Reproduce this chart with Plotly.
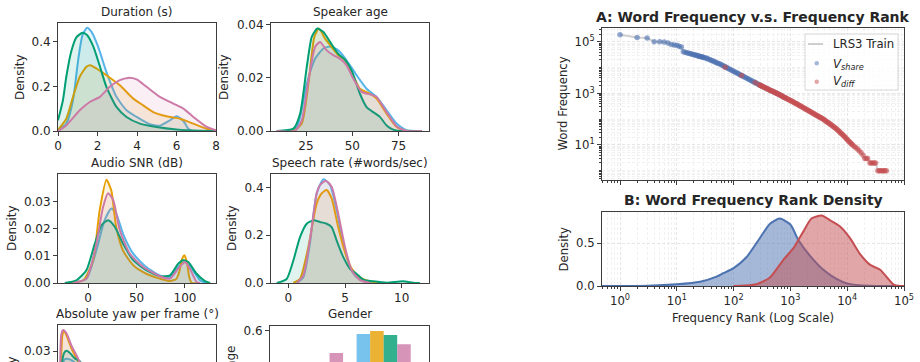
import plotly.graph_objects as go

W, H = 920, 362
FONT = "DejaVu Sans"
INK = "#262626"
SPINE = "#3c3c3c"
GRID = "#e6e6e6"
GRID_MINOR = "#f1f1f1"

C_BLUE, C_ORANGE, C_GREEN, C_PINK = "#56B4E9", "#E69F00", "#009E73", "#CC79A7"
C_SHARE, C_DIFF = "#4C72B0", "#C44E52"

# ---------------- data: left grid (KDE curves) ----------------
dur_blue_x = [0, 0.42, 0.76, 1.02, 1.24, 1.47, 1.69, 2.03, 2.45, 2.96, 3.47, 3.98, 4.65, 5.16, 5.67, 6.0, 6.35, 6.6, 6.85, 8.0]
dur_blue_y = [0, 0.033, 0.138, 0.318, 0.43, 0.463, 0.445, 0.378, 0.265, 0.153, 0.093, 0.063, 0.03, 0.024, 0.048, 0.066, 0.045, 0.01, 0, 0]
dur_orange_x = [0, 0.42, 0.76, 1.1, 1.44, 1.64, 1.95, 2.45, 3.13, 3.81, 4.31, 4.82, 5.5, 6.18, 6.85, 7.53, 8.0]
dur_orange_y = [0.005, 0.055, 0.153, 0.243, 0.288, 0.295, 0.28, 0.25, 0.205, 0.145, 0.115, 0.085, 0.066, 0.055, 0.033, 0.01, 0.003]
dur_green_x = [0, 0.25, 0.42, 0.68, 0.93, 1.24, 1.47, 1.78, 2.12, 2.45, 2.96, 3.47, 4.15, 4.99, 6.0, 7.2, 8.0]
dur_green_y = [0.048, 0.138, 0.243, 0.36, 0.42, 0.44, 0.43, 0.38, 0.29, 0.198, 0.108, 0.063, 0.033, 0.018, 0.007, 0.001, 0]
dur_pink_x = [0, 0.42, 1.1, 1.61, 2.12, 2.62, 3.13, 3.55, 3.98, 4.48, 5.16, 5.84, 6.35, 6.85, 7.53, 8.0]
dur_pink_y = [0, 0.025, 0.093, 0.13, 0.153, 0.198, 0.228, 0.238, 0.231, 0.198, 0.153, 0.123, 0.1, 0.063, 0.018, 0.003]

age_blue_x = [9.2, 14.6, 20, 25.4, 29.9, 34.4, 38, 42.4, 46.9, 52.3, 57.7, 63.1, 68.5, 73.9, 79.3, 87.5]
age_blue_y = [0, 0, 0.0015, 0.0178, 0.0272, 0.031, 0.0318, 0.0303, 0.0266, 0.021, 0.0159, 0.0128, 0.0078, 0.0028, 0.0003, 0]
age_orange_x = [9.2, 18.2, 22.7, 26.3, 29.5, 32, 35.3, 38.8, 42.4, 46, 49.6, 54.1, 59.5, 63.1, 68.5, 73.9, 79.3, 87.5]
age_orange_y = [0, 0, 0.0028, 0.0178, 0.0354, 0.0385, 0.0347, 0.0316, 0.0285, 0.0268, 0.0222, 0.0159, 0.014, 0.0122, 0.0065, 0.0015, 0, 0]
age_green_x = [9.2, 18.2, 21.8, 25.4, 28.1, 31.1, 34.4, 38, 42.4, 46, 49.6, 54.1, 57.7, 61.3, 64.9, 68.5, 72.1, 75.7, 87.5]
age_green_y = [0, 0.0009, 0.0065, 0.024, 0.0354, 0.0385, 0.0372, 0.0335, 0.029, 0.0268, 0.0228, 0.014, 0.009, 0.0071, 0.0053, 0.0021, 0.0005, 0, 0]
age_pink_x = [9.2, 19, 22.7, 26.3, 29.9, 32.6, 36.2, 39.7, 43.3, 46.9, 50.5, 55, 59.5, 63.1, 68.5, 73.9, 79.3, 87.5]
age_pink_y = [0, 0, 0.004, 0.019, 0.0316, 0.0335, 0.0303, 0.0285, 0.0272, 0.0247, 0.0197, 0.0147, 0.0138, 0.0128, 0.0071, 0.0018, 0, 0]

snr_blue_x = [-15.5, -1.7, 8.6, 17, 24, 29, 36, 46.6, 60, 74, 84.5, 93, 100, 107, 115.5, 122]
snr_blue_y = [0, 0.0016, 0.012, 0.023, 0.0274, 0.0256, 0.0182, 0.0108, 0.0059, 0.0028, 0.0022, 0.0059, 0.0077, 0.0053, 0.001, 0]
snr_orange_x = [-22, -5, 5.2, 12, 19, 24, 29, 36, 46.6, 60, 74, 84.5, 91, 94, 97, 99.5, 102, 104.5, 107, 115]
snr_orange_y = [0, 0.001, 0.0084, 0.0268, 0.038, 0.034, 0.0207, 0.012, 0.0065, 0.0034, 0.0016, 0.0007, 0.0015, 0.004, 0.0088, 0.0102, 0.0075, 0.002, 0, 0]
snr_green_x = [-24, -12, -1.7, 7, 14, 20.7, 27.6, 36, 46.6, 60, 74, 84.5, 93, 98, 103.4, 112, 120.7, 126]
snr_green_y = [0, 0.001, 0.0047, 0.0145, 0.0213, 0.0231, 0.0207, 0.0145, 0.0084, 0.0047, 0.0025, 0.0028, 0.0071, 0.0084, 0.0077, 0.0034, 0.0007, 0]
snr_pink_x = [-15.5, -1.7, 8.6, 15.5, 20.7, 26, 32.8, 43, 57, 74, 84.5, 93, 100, 105, 112, 115.5]
snr_pink_y = [0, 0.0016, 0.0145, 0.028, 0.033, 0.0305, 0.0194, 0.0108, 0.0059, 0.0025, 0.0016, 0.0053, 0.0077, 0.0053, 0.0004, 0]

rate_blue_x = [0.74, 1.32, 1.9, 2.5, 3.1, 3.68, 4.26, 4.85, 5.44, 6.03, 6.9, 7.5]
rate_blue_y = [0, 0.024, 0.164, 0.375, 0.434, 0.41, 0.305, 0.164, 0.066, 0.024, 0.003, 0]
rate_orange_x = [0.44, 1.03, 1.76, 2.5, 2.94, 3.38, 3.82, 4.4, 5.0, 5.6, 6.3, 7.2, 8.1]
rate_orange_y = [0, 0.017, 0.15, 0.333, 0.375, 0.389, 0.354, 0.234, 0.129, 0.059, 0.024, 0.007, 0]
rate_green_x = [-1.03, -0.15, 0.44, 1.03, 1.62, 2.2, 2.8, 3.38, 3.82, 4.26, 4.85, 5.44, 6.03, 6.6, 7.5, 8.7, 10.1, 11, 11.6]
rate_green_y = [0, 0.017, 0.094, 0.192, 0.248, 0.262, 0.255, 0.248, 0.234, 0.178, 0.108, 0.059, 0.038, 0.014, 0.007, 0.0014, 0.007, 0.0014, 0]
rate_pink_x = [0.74, 1.32, 1.9, 2.5, 2.8, 3.3, 3.82, 4.4, 5.0, 5.6, 6.3, 7.2]
rate_pink_y = [0, 0.031, 0.178, 0.375, 0.41, 0.428, 0.403, 0.29, 0.15, 0.052, 0.013, 0]

yaw_blue_x = [-2.0, -0.3, 0.55, 2.4, 4.2, 6, 8, 12, 20, 30, 45]
yaw_blue_y = [0.0, 0.0267, 0.0272, 0.0267, 0.0252, 0.023, 0.02, 0.015, 0.008, 0.003, 0.0005]
yaw_orange_x = [-2.0, -1.4, -0.9, -0.3, 0.55, 2.4, 4.2, 5.4, 8, 12, 20, 30, 45]
yaw_orange_y = [0.0, 0.025, 0.0358, 0.0373, 0.0358, 0.031, 0.0274, 0.025, 0.019, 0.013, 0.0065, 0.003, 0.0005]
yaw_green_x = [-2.0, -0.9, -0.32, 0.55, 1.75, 3.6, 5.4, 8, 12, 20, 30, 45]
yaw_green_y = [0.0, 0.0267, 0.0292, 0.0301, 0.0294, 0.0273, 0.0263, 0.022, 0.016, 0.008, 0.003, 0.0005]
yaw_pink_x = [-2.2, -1.7, -1.34, -0.68, 0.55, 2.4, 4.2, 5.4, 8, 12, 20, 30, 45]
yaw_pink_y = [0.0, 0.026, 0.0358, 0.0377, 0.0366, 0.032, 0.0285, 0.026, 0.02, 0.014, 0.007, 0.003, 0.0005]

gender_pos = [0, 1]
gender_blue = [0.418, 0.582]
gender_orange = [0.402, 0.598]
gender_green = [0.424, 0.576]
gender_pink = [0.476, 0.524]

# ---------------- data: panel A (rank, train frequency) ----------------
share_rank = [1, 2, 3, 4, 5, 6, 7, 8, 9, 10, 11, 12, 13, 14, 15, 16, 17, 18, 19, 20, 21, 22, 23, 24, 25, 26, 27, 28, 29, 30,
              32, 34, 35, 38, 40, 42, 45, 47, 50, 53, 56, 60, 63, 67, 71, 75, 79, 84, 89, 94, 100, 106, 112, 119, 126,
              133, 141, 150, 158, 168, 178, 188, 200, 211, 224, 237, 251, 266, 282, 299, 316, 355, 398, 447, 501, 562,
              631, 708, 794]
share_freq = [190000, 148000, 141000, 102000, 101000, 99000, 91000, 79000, 76000, 74000, 68000, 63000, 41700, 39800, 38100,
              36600, 35300, 34000, 32900, 31900, 30900, 30100, 29200, 28400, 27700, 27000, 26400, 25800, 25300, 24700,
              23900, 23100, 21900, 20700, 19600, 18600, 17600, 16600, 15700, 14900, 14100, 13300, 12400, 11600, 10800,
              10100, 9480, 8870, 8280, 7740, 7240, 6780, 6340, 5930, 5550, 5190, 4850, 4540, 4250, 3970, 3720, 3480, 3250,
              3040, 2840, 2660, 2490, 2330, 2180, 2040, 1910, 1680, 1490, 1310, 1160, 1030, 902, 793, 697]
diff_rank = [71, 138, 240, 282, 293, 305, 318, 331, 345, 359, 374, 389, 405, 422, 439, 457, 476, 495, 516, 537, 559, 582,
             606, 631, 657, 684, 712, 741, 772, 804, 837, 871, 907, 944, 983, 1023, 1065, 1109, 1155, 1202, 1252, 1303,
             1357, 1413, 1471, 1531, 1594, 1660, 1728, 1799, 1873, 1950, 2030, 2113, 2200, 2291, 2385, 2483, 2585, 2692,
             2802, 2917, 3037, 3162, 3292, 3428, 3569, 3715, 3868, 4027, 4193, 4365, 4545, 4732, 4926, 5129, 5340, 5559,
             5788, 6026, 6273, 6531, 6800, 7079, 7370, 7674, 7989, 8318, 8660, 9016, 9386, 9772, 10174, 10593, 11028,
             11482, 11955, 12445, 13183, 14125, 15136, 16218, 17579, 19055, 20417, 21627, 22909, 25119, 26607, 28184,
             29854, 31623, 34674, 36728, 38905, 41210, 43652, 46238, 48978]
diff_freq = [10300, 4950, 2650, 2180, 2080, 1980, 1890, 1810, 1740, 1660, 1590, 1520, 1460, 1400, 1340, 1280, 1230, 1180,
             1130, 1080, 1030, 987, 944, 902, 861, 824, 787, 752, 719, 687, 656, 628, 600, 573, 547, 522, 497, 472, 449,
             428, 406, 386, 368, 350, 333, 317, 301, 286, 273, 259, 246, 234, 222, 211, 200, 191, 181, 172, 163, 155, 147,
             140, 133, 126, 120, 114, 108, 103, 97, 91, 86, 80, 75, 71, 66, 62, 58, 55, 51, 48, 45, 41, 38, 35, 32, 29, 27,
             25, 23, 21, 19, 17, 16, 14, 13, 12, 11, 10, 9, 8, 7, 6, 5, 4, 3, 3, 3, 2, 2, 2, 2, 2, 1, 1, 1, 1, 1, 1, 1]

# ---------------- data: panel B (log10 rank, density) ----------------
b_share_lr = [-0.32, 0.5, 1.0, 1.41, 1.7, 1.82, 2.0, 2.23, 2.46, 2.64, 2.81, 3.0, 3.14, 3.35, 3.58, 3.82, 4.0, 4.22, 4.5, 5.0]
b_share_d = [0, 0.003, 0.02, 0.05, 0.11, 0.15, 0.21, 0.34, 0.56, 0.73, 0.79, 0.72, 0.54, 0.35, 0.19, 0.08, 0.03, 0.008, 0.001, 0]
b_diff_lr = [2.0, 2.2, 2.4, 2.64, 2.88, 3.05, 3.14, 3.23, 3.37, 3.55, 3.70, 3.87, 4.05, 4.22, 4.40, 4.58, 4.69, 4.81, 4.93, 5.0]
b_diff_d = [0, 0.005, 0.02, 0.10, 0.31, 0.44, 0.54, 0.64, 0.79, 0.825, 0.77, 0.70, 0.56, 0.38, 0.25, 0.19, 0.11, 0.02, 0.0, 0]

legend_labels = ["LRS3 Train", "<i>V</i><sub><i>share</i></sub>", "<i>V</i><sub><i>diff</i></sub>"]


def rgba(h, a):
    h = h.lstrip("#")
    return f"rgba({int(h[0:2], 16)},{int(h[2:4], 16)},{int(h[4:6], 16)},{a})"


def fx(p):
    return p / W


def fy(p):
    return 1 - p / H


def axref(n, letter):
    return letter if n == 1 else f"{letter}{n}"


fig = go.Figure()


def kde(xs, ys, color, n, alpha=0.12, width=2):
    fig.add_trace(go.Scatter(
        x=xs, y=ys, mode="lines",
        line=dict(color=color, width=width, shape="spline", smoothing=0.6),
        fill="tozeroy", fillcolor=rgba(color, alpha),
        xaxis=axref(n, "x"), yaxis=axref(n, "y"), showlegend=False, hoverinfo="skip"))


hue_colors = [C_BLUE, C_ORANGE, C_GREEN, C_PINK]
panels_kde = {
    1: [(dur_blue_x, dur_blue_y), (dur_orange_x, dur_orange_y), (dur_green_x, dur_green_y), (dur_pink_x, dur_pink_y)],
    2: [(age_blue_x, age_blue_y), (age_orange_x, age_orange_y), (age_green_x, age_green_y), (age_pink_x, age_pink_y)],
    3: [(snr_blue_x, snr_blue_y), (snr_orange_x, snr_orange_y), (snr_green_x, snr_green_y), (snr_pink_x, snr_pink_y)],
    4: [(rate_blue_x, rate_blue_y), (rate_orange_x, rate_orange_y), (rate_green_x, rate_green_y), (rate_pink_x, rate_pink_y)],
    5: [(yaw_blue_x, yaw_blue_y), (yaw_orange_x, yaw_orange_y), (yaw_green_x, yaw_green_y), (yaw_pink_x, yaw_pink_y)],
}
for n, curves in panels_kde.items():
    for (xs, ys), col in zip(curves, hue_colors):
        kde(xs, ys, col, n)

for vals, col in zip([gender_blue, gender_orange, gender_green, gender_pink], hue_colors):
    fig.add_trace(go.Bar(x=gender_pos, y=vals, marker=dict(color=col, opacity=0.8, line=dict(width=0)),
                         xaxis="x6", yaxis="y6", showlegend=False, hoverinfo="skip"))

# Panel A
pairs = sorted(zip(share_rank + diff_rank, share_freq + diff_freq))
fig.add_trace(go.Scatter(x=[p[0] for p in pairs], y=[p[1] for p in pairs], mode="lines",
                         line=dict(color="rgba(160,160,160,0.5)", width=2), name=legend_labels[0],
                         xaxis="x7", yaxis="y7", hoverinfo="skip", showlegend=False))
fig.add_trace(go.Scatter(x=share_rank, y=share_freq, mode="markers",
                         marker=dict(color=C_SHARE, size=5.5, opacity=0.6, line=dict(width=0)),
                         name=legend_labels[1], xaxis="x7", yaxis="y7", hoverinfo="skip", showlegend=False))
fig.add_trace(go.Scatter(x=diff_rank, y=diff_freq, mode="markers",
                         marker=dict(color=C_DIFF, size=5.5, opacity=0.6, line=dict(width=0)),
                         name=legend_labels[2], xaxis="x7", yaxis="y7", hoverinfo="skip", showlegend=False))

# Panel B
for lrs, ds, col in [(b_share_lr, b_share_d, C_SHARE), (b_diff_lr, b_diff_d, C_DIFF)]:
    fig.add_trace(go.Scatter(x=[10 ** v for v in lrs], y=ds, mode="lines",
                             line=dict(color=col, width=2, shape="spline", smoothing=0.6),
                             fill="tozeroy", fillcolor=rgba(col, 0.5),
                             xaxis="x8", yaxis="y8", showlegend=False, hoverinfo="skip"))

TF = dict(family=FONT, size=12, color=INK)
BASE = dict(showline=True, linecolor=SPINE, linewidth=1, mirror=True, ticks="outside", ticklen=4, tickwidth=1,
            tickcolor=SPINE, showgrid=False, zeroline=False, tickfont=TF, fixedrange=True, automargin=False)

layout_axes = {}
left_specs = [
    # n, x0, x1, top, bottom, xrange, yrange, xticks, yticks, yfmt
    (1, 58, 216, 23, 131, [0, 8], [0, 0.484], [0, 2, 4, 6, 8], [0, 0.2, 0.4], ".1f"),
    (2, 271, 429, 23, 131, [6.1, 91.4], [0, 0.0406], [25, 50, 75], [0, 0.02, 0.04], ".2f"),
    (3, 58, 216, 174, 283, [-31, 132], [0, 0.0401], [0, 50, 100], [0, 0.01, 0.02, 0.03], ".2f"),
    (4, 271, 429, 174, 283, [-1.53, 12.41], [0, 0.456], [0, 5, 10], [0, 0.2, 0.4], ".1f"),
]
for n, x0, x1, t, b, xr, yr, xt, yt, yf in left_specs:
    layout_axes[f"xaxis{'' if n == 1 else n}"] = dict(BASE, domain=[fx(x0), fx(x1)], range=xr, tickvals=xt,
                                                      anchor=axref(n, "y"))
    layout_axes[f"yaxis{'' if n == 1 else n}"] = dict(BASE, domain=[fy(b), fy(t)], range=yr, tickvals=yt,
                                                      tickformat=yf, anchor=axref(n, "x"))

# bottom row (cropped by the page edge)
for n, x0, x1, t, xr, yr, yt, yf in [
    (5, 58, 216, 325, [-2.5, 55], [0.02598, 0.03952], [0.03], ".2f"),
    (6, 270, 429, 326, [-0.68, 1.67], [0.426, 0.626], [0.6], ".1f"),
]:
    layout_axes[f"xaxis{n}"] = dict(domain=[fx(x0), fx(x1)], range=xr, anchor=f"y{n}", side="top", showline=True,
                                    linecolor=SPINE, linewidth=1, mirror=False, ticks="", showticklabels=False,
                                    showgrid=False, zeroline=False, fixedrange=True, automargin=False)
    layout_axes[f"yaxis{n}"] = dict(BASE, domain=[0, fy(t)], range=yr, tickvals=yt, tickformat=yf, anchor=f"x{n}")


def minor_vals(lo, hi):
    out = []
    for d in range(lo, hi):
        for m in range(2, 10):
            out.append(m * 10 ** d)
    return out


DASH = "3px,2px"
TF2 = dict(family=FONT, size=11.7, color=INK)
LOGX = dict(BASE, type="log", range=[-0.317, 5.0], tickvals=[1, 10, 100, 1000, 10000, 100000],
            showgrid=True, gridcolor=GRID, griddash=DASH, gridwidth=1, tickfont=TF2,
            minor=dict(tickvals=minor_vals(-1, 5), ticks="outside", ticklen=2, tickcolor=SPINE,
                       showgrid=True, gridcolor=GRID_MINOR, griddash=DASH, gridwidth=1))
layout_axes["xaxis7"] = dict(LOGX, domain=[fx(602), fx(904)], anchor="y7", showticklabels=False)
layout_axes["yaxis7"] = dict(BASE, type="log", domain=[fy(180), fy(28)], range=[-0.36, 5.54], anchor="x7",
                             tickvals=[10, 1000, 100000], ticktext=["10<sup>1</sup>", "10<sup>3</sup>", "10<sup>5</sup>"],
                             showgrid=True, gridcolor=GRID, griddash=DASH, tickfont=TF2,
                             minor=dict(tickvals=[1, 100, 10000] + minor_vals(-1, 6), ticks="outside", ticklen=2,
                                        tickcolor=SPINE, showgrid=True, gridcolor=GRID_MINOR, griddash=DASH))
layout_axes["xaxis8"] = dict(LOGX, domain=[fx(602), fx(904)], anchor="y8",
                             ticktext=["10<sup>0</sup>", "10<sup>1</sup>", "10<sup>2</sup>", "10<sup>3</sup>",
                                       "10<sup>4</sup>", "10<sup>5</sup>"])
layout_axes["yaxis8"] = dict(BASE, domain=[fy(286), fy(212)], range=[0, 0.867], anchor="x8", tickvals=[0, 0.5],
                             tickformat=".1f", showgrid=True, gridcolor=GRID, griddash=DASH, tickfont=TF2)

annotations = []


def text(x, y, s, size=12, bold=False, angle=0, xanchor="center"):
    annotations.append(dict(x=fx(x), y=fy(y), xref="paper", yref="paper", text=f"<b>{s}</b>" if bold else s,
                            showarrow=False, xanchor=xanchor, yanchor="middle", textangle=angle,
                            font=dict(family=FONT, size=size, color=INK)))


text(137, 12, "Duration (s)")
text(350, 12, "Speaker age")
text(137, 163, "Audio SNR (dB)")
text(350, 163, "Speech rate (#words/sec)")
text(137, 314, "Absolute yaw per frame (°)")
text(349.5, 314, "Gender")
text(20, 77, "Density", angle=-90)
text(224, 77, "Density", angle=-90)
text(12, 228, "Density", angle=-90)
text(232, 228, "Density", angle=-90)
text(12, 379, "Density", angle=-90)
text(231, 379, "Percentage", angle=-90)
text(262, 366.7, "0.4", xanchor="right")

text(753, 17, "A: Word Frequency v.s. Frequency Rank", size=14, bold=True)
text(753, 200, "B: Word Frequency Rank Density", size=14, bold=True)
text(562.5, 104, "Word Frequency", size=11.7, angle=-90)
text(563.5, 249, "Density", size=11.7, angle=-90)
text(753, 318, "Frequency Rank (Log Scale)", size=11.7)

# legend of panel A (matplotlib-like box drawn in pixel positions)
shapes = [
    dict(type="rect", xref="paper", yref="paper", x0=fx(805), x1=fx(898), y0=fy(90), y1=fy(34),
         line=dict(color="#d6d6d6", width=1), fillcolor="rgba(255,255,255,0.8)", layer="above"),
    dict(type="line", xref="paper", yref="paper", x0=fx(808), x1=fx(823), y0=fy(44), y1=fy(44),
         line=dict(color="rgba(160,160,160,0.5)", width=2), layer="above"),
    dict(type="circle", xref="paper", yref="paper", x0=fx(814.5), x1=fx(819), y0=fy(65.5), y1=fy(61),
         line=dict(width=0), fillcolor=rgba(C_SHARE, 0.5), layer="above"),
    dict(type="circle", xref="paper", yref="paper", x0=fx(814.5), x1=fx(819), y0=fy(84), y1=fy(79.5),
         line=dict(width=0), fillcolor=rgba(C_DIFF, 0.5), layer="above"),
]
for lab, yy in zip(legend_labels, [44, 64, 82]):
    text(831, yy, lab, size=11.7, xanchor="left")

fig.update_layout(
    template="none",
    width=W, height=H, margin=dict(l=0, r=0, t=0, b=0, autoexpand=False),
    paper_bgcolor="white", plot_bgcolor="white",
    font=dict(family=FONT, size=12, color=INK),
    barmode="group", bargap=0.2, bargroupgap=0,
    annotations=annotations, shapes=shapes, showlegend=False,
    **layout_axes,
)

fig.write_html("out.html")
